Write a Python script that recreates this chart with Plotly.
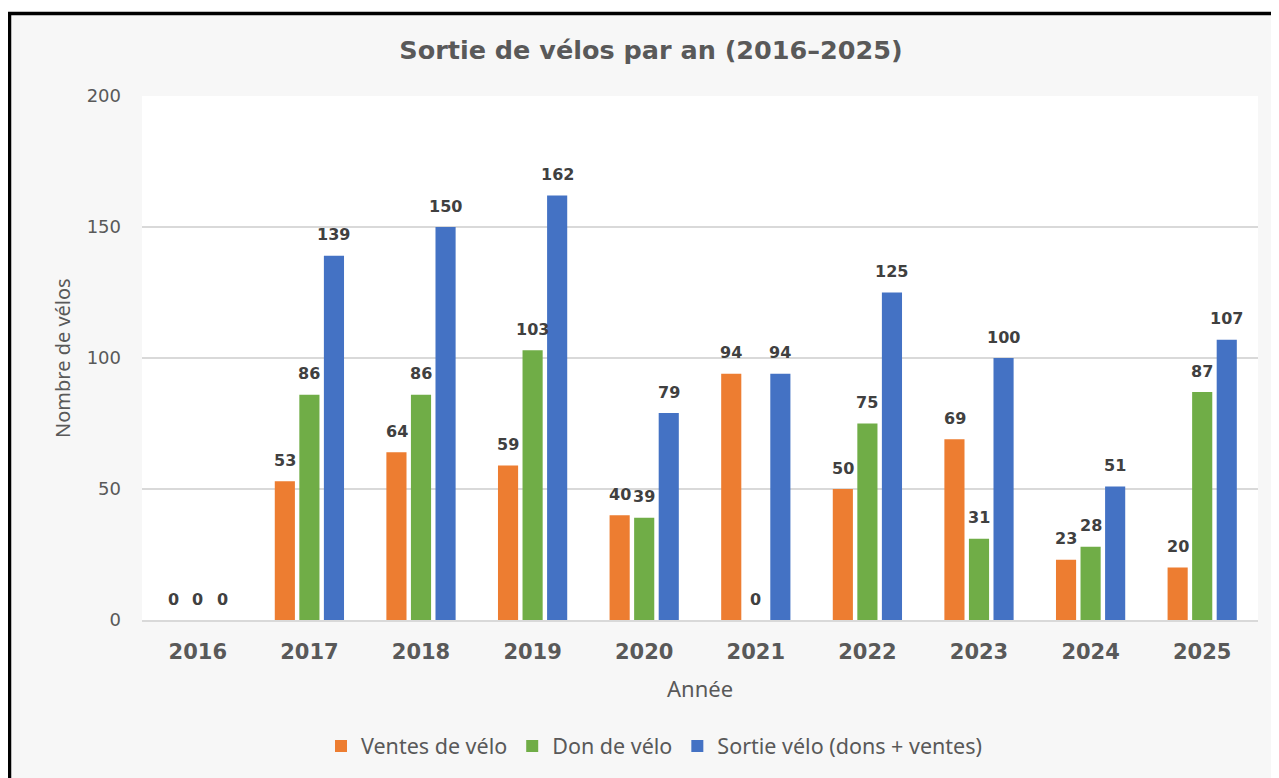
import plotly.graph_objects as go

years = ["2016", "2017", "2018", "2019", "2020", "2021", "2022", "2023", "2024", "2025"]
ventes = [0, 53, 64, 59, 40, 94, 50, 69, 23, 20]
dons = [0, 86, 86, 103, 39, 0, 75, 31, 28, 87]
sorties = [0, 139, 150, 162, 79, 94, 125, 100, 51, 107]
series_names = ["Ventes de vélo", "Don de vélo", "Sortie vélo (dons + ventes)"]
series_colors = ["#ED7D31", "#70AD47", "#4472C4"]
y_ticks = [0, 50, 100, 150, 200]

# page renders the figure with an 8px body offset; work in figure pixels
W, H = 1279, 778
L, R, T, B = 134, 29, 88, 166
PW, PH = W - L - R, H - T - B


def px_x(px):
    return (px - L) / PW


def px_y(py):
    return (H - B - py) / PH


fig = go.Figure()
series = [ventes, dons, sorties]
for name, vals, col in zip(series_names, series, series_colors):
    fig.add_trace(go.Bar(
        x=years, y=vals, name=name, marker=dict(color=col, line=dict(width=0)),
    ))

# data labels
offsets = [-24.5, 0, 24.5]
annotations = []
for vals, off in zip(series, offsets):
    for i, v in enumerate(vals):
        annotations.append(dict(
            x=i, y=v, xref="x", yref="y", text="<b>%d</b>" % v, showarrow=False,
            xshift=off, yshift=21, yanchor="middle", xanchor="center",
            font=dict(family="DejaVu Sans", size=16, color="#404040"),
        ))

# axis titles
annotations.append(dict(
    x=0.5, y=px_y(680), xref="paper", yref="paper", text="Année", showarrow=False,
    xanchor="center", yanchor="middle",
    font=dict(family="Noto Sans", size=22, color="#595959"),
))
annotations.append(dict(
    x=px_x(54), y=px_y(350), xref="paper", yref="paper", text="Nombre de vélos", showarrow=False,
    xanchor="center", yanchor="middle", textangle=-90,
    font=dict(family="Noto Sans", size=20, color="#595959"),
))

shapes = [
    # gray chart area inside frame
    dict(type="rect", xref="paper", yref="paper", x0=px_x(2), x1=px_x(1290), y0=px_y(790), y1=px_y(6),
         fillcolor="#F7F7F7", line=dict(width=0), layer="below"),
    # white plot area
    dict(type="rect", xref="paper", yref="paper", x0=0, x1=1, y0=0, y1=1,
         fillcolor="#FFFFFF", line=dict(width=0), layer="below"),
    # black frame (left and top)
    dict(type="line", xref="paper", yref="paper", x0=px_x(1.5), x1=px_x(1.5), y0=px_y(790), y1=px_y(4),
         line=dict(color="#000000", width=3.5)),
    dict(type="line", xref="paper", yref="paper", x0=px_x(0), x1=px_x(1290), y0=px_y(5.5), y1=px_y(5.5),
         line=dict(color="#000000", width=3.5)),
]

fig.update_layout(
    width=W, height=H,
    margin=dict(l=L, r=R, t=T, b=B, autoexpand=False),
    paper_bgcolor="#FFFFFF", plot_bgcolor="rgba(0,0,0,0)",
    barmode="group", bargap=0.34, bargroupgap=0.18,
    title=dict(text="<b>Sortie de vélos par an (2016–2025)</b>", x=643 / W, xanchor="center",
               y=1 - 42 / H, yanchor="middle", yref="container",
               font=dict(family="DejaVu Sans", size=25.5, color="#595959")),
    showlegend=True,
    legend=dict(orientation="h", x=px_x(646), xanchor="center", y=px_y(738), yanchor="middle",
                font=dict(family="Noto Sans", size=21.5, color="#595959"),
                bgcolor="rgba(0,0,0,0)", itemsizing="constant", traceorder="normal",
                itemwidth=30),
    annotations=annotations,
    shapes=shapes,
    xaxis=dict(type="category", categoryorder="array", categoryarray=years,
               showgrid=False, showline=True, linecolor="#D9D9D9", linewidth=2,
               ticks="", ticklabelstandoff=12,
               tickfont=dict(family="DejaVu Sans", size=21, color="#595959", weight="bold")),
    yaxis=dict(range=[0, 200], tickvals=y_ticks, ticktext=[str(t) for t in y_ticks],
               showgrid=True, gridcolor="#D9D9D9", gridwidth=2, zeroline=False,
               showline=False, ticks="", ticklabelstandoff=20,
               tickfont=dict(family="DejaVu Sans", size=18, color="#595959")),
)

fig.write_html("out.html")
